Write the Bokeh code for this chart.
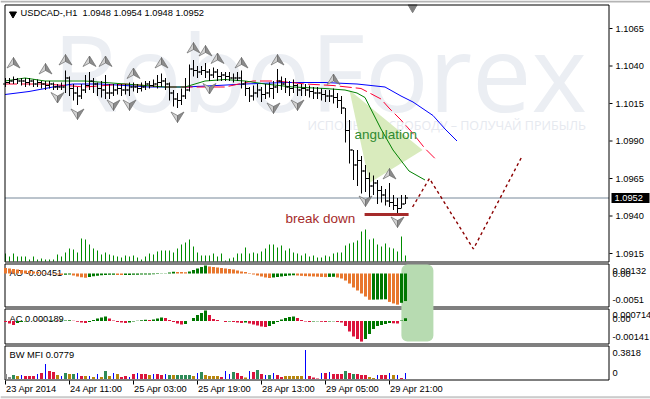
from bokeh.plotting import figure
from bokeh.models import Range1d
from bokeh.embed import file_html
from bokeh.resources import INLINE
from bokeh.core.properties import value

# ---------------- data ----------------
title_text = "USDCAD-,H1\u00a0\u00a01.0948 1.0954 1.0948 1.0952"
time_ticks = [0, 16, 32, 48, 64, 80, 96]
time_labels = ["23 Apr 2014", "24 Apr 11:00", "25 Apr 03:00", "25 Apr 19:00",
               "28 Apr 13:00", "29 Apr 05:00", "29 Apr 21:00"]
price_ticks = [1.0915, 1.0940, 1.0965, 1.0990, 1.1015, 1.1040, 1.1065]
price_labels = ["1.0915", "1.0940", "1.0965", "1.0990", "1.1015", "1.1040", "1.1065"]
last_price = 1.0952

opens = [1.1028,1.1029,1.1030,1.1031,1.1030,1.1030,1.1029,1.1030,1.1028,1.1029,
         1.1028,1.1027,1.1028,1.1026,1.1026,1.1026,1.1032,1.1025,1.1022,1.1020,
         1.1024,1.1027,1.1030,1.1028,1.1025,1.1024,1.1022,1.1022,1.1024,1.1025,
         1.1024,1.1024,1.1026,1.1026,1.1025,1.1026,1.1028,1.1027,1.1028,1.1029,
         1.1030,1.1028,1.1022,1.1018,1.1017,1.1020,1.1024,1.1038,1.1037,1.1036,
         1.1037,1.1036,1.1034,1.1036,1.1033,1.1034,1.1033,1.1032,1.1032,1.1032,
         1.1028,1.1025,1.1020,1.1022,1.1024,1.1021,1.1022,1.1025,1.1026,1.1030,
         1.1028,1.1026,1.1025,1.1027,1.1024,1.1025,1.1024,1.1023,1.1022,1.1022,
         1.1021,1.1020,1.1020,1.1019,1.1017,1.1012,1.0997,1.0984,1.0974,1.0977,
         1.0970,1.0965,1.0960,1.0962,1.0957,1.0954,1.0950,1.0949,1.0947,1.0945,
         1.0948]
highs = [1.1032,1.1032,1.1033,1.1032,1.1032,1.1032,1.1032,1.1031,1.1031,1.1030,
         1.1030,1.1030,1.1029,1.1028,1.1029,1.1037,1.1033,1.1028,1.1026,1.1028,
         1.1034,1.1036,1.1032,1.1029,1.1030,1.1034,1.1028,1.1028,1.1028,1.1028,
         1.1028,1.1029,1.1029,1.1028,1.1029,1.1030,1.1030,1.1031,1.1034,1.1035,
         1.1032,1.1029,1.1024,1.1022,1.1025,1.1032,1.1041,1.1044,1.1040,1.1040,
         1.1042,1.1038,1.1039,1.1038,1.1036,1.1036,1.1036,1.1035,1.1036,1.1037,
         1.1030,1.1026,1.1027,1.1028,1.1026,1.1028,1.1029,1.1030,1.1038,1.1033,
         1.1032,1.1030,1.1031,1.1028,1.1028,1.1028,1.1027,1.1026,1.1026,1.1025,
         1.1024,1.1024,1.1025,1.1022,1.1020,1.1012,1.1004,1.0984,1.0984,1.0980,
         1.0974,1.0969,1.0967,1.0964,1.0960,1.0958,1.0962,1.0954,1.0952,1.0954,
         1.0954]
lows = [1.1026,1.1028,1.1028,1.1028,1.1027,1.1026,1.1027,1.1026,1.1026,1.1025,
        1.1024,1.1025,1.1024,1.1024,1.1024,1.1022,1.1020,1.1017,1.1014,1.1018,
        1.1022,1.1024,1.1022,1.1020,1.1019,1.1018,1.1018,1.1020,1.1021,1.1020,
        1.1021,1.1020,1.1023,1.1022,1.1023,1.1024,1.1025,1.1026,1.1025,1.1026,
        1.1024,1.1017,1.1013,1.1012,1.1014,1.1018,1.1023,1.1033,1.1032,1.1034,
        1.1032,1.1030,1.1032,1.1030,1.1030,1.1030,1.1030,1.1029,1.1030,1.1025,
        1.1020,1.1016,1.1017,1.1019,1.1016,1.1018,1.1019,1.1018,1.1022,1.1024,
        1.1022,1.1020,1.1022,1.1020,1.1020,1.1020,1.1019,1.1018,1.1018,1.1017,
        1.1016,1.1016,1.1015,1.1012,1.1008,1.0989,1.0975,1.0964,1.0960,1.0955,
        1.0956,1.0952,1.0954,1.0948,1.0949,1.0947,1.0946,1.0944,1.0942,1.0945,
        1.0948]
closes = [1.1029,1.1030,1.1031,1.1030,1.1030,1.1029,1.1030,1.1028,1.1029,1.1028,
          1.1027,1.1028,1.1026,1.1026,1.1026,1.1032,1.1025,1.1022,1.1020,1.1024,
          1.1027,1.1030,1.1028,1.1025,1.1024,1.1022,1.1022,1.1024,1.1025,1.1024,
          1.1024,1.1026,1.1026,1.1025,1.1026,1.1028,1.1027,1.1028,1.1029,1.1030,
          1.1028,1.1022,1.1018,1.1017,1.1020,1.1024,1.1038,1.1037,1.1036,1.1037,
          1.1036,1.1034,1.1036,1.1033,1.1034,1.1033,1.1032,1.1032,1.1032,1.1028,
          1.1025,1.1020,1.1022,1.1024,1.1021,1.1022,1.1025,1.1026,1.1030,1.1028,
          1.1026,1.1025,1.1027,1.1024,1.1025,1.1024,1.1023,1.1022,1.1022,1.1021,
          1.1020,1.1020,1.1019,1.1017,1.1012,1.0997,1.0984,1.0974,1.0977,1.0970,
          1.0965,1.0960,1.0962,1.0957,1.0954,1.0950,1.0949,1.0947,1.0945,1.0948,
          1.0952]
volumes = [800,500,800,500,500,500,200,500,200,300,
           200,200,200,700,500,900,1300,1200,900,2300,
           2200,1700,1300,1100,700,900,700,600,500,400,
           600,500,600,400,200,500,800,700,1000,1100,
           1100,1100,900,1300,1700,1900,2200,1500,900,600,
           600,600,800,500,800,100,300,400,800,800,
           1400,800,900,800,1000,1300,1700,1700,1400,1600,
           1100,1300,900,800,600,800,500,600,400,400,
           600,500,800,900,900,1600,1800,1900,2100,3000,
           3200,2200,2300,1700,1500,1800,1400,1300,1000,2500,
           600]

# Alligator (shifted lines, beyond the last bar)
jaw_idx = [0, 6, 12, 17, 24, 36, 45, 53, 60, 70, 80, 88, 95, 99, 102, 107, 110, 113]
jaw = [1.1021, 1.1023, 1.1026, 1.1028, 1.1028, 1.1026, 1.1026, 1.1027, 1.1028, 1.1029,
       1.1029, 1.1028, 1.1026, 1.1020, 1.1016, 1.1007, 1.0998, 1.0990]
teeth_idx = [0, 10, 20, 30, 40, 50, 55, 62, 68, 75, 82, 89, 94, 96, 99, 102, 105, 108]
teeth = [1.1028, 1.1028, 1.1026, 1.1028, 1.1026, 1.1026, 1.1026, 1.1030, 1.1030, 1.1028,
         1.1027, 1.1025, 1.1018, 1.1012, 1.1004, 1.0995, 1.0985, 1.0977]
lips_idx = [0, 5, 10, 20, 30, 40, 45, 50, 55, 60, 65, 72, 80, 85, 88, 90, 94, 97, 101, 105]
lips = [1.1030, 1.1032, 1.1030, 1.1030, 1.1028, 1.1026, 1.1026, 1.1030, 1.1031, 1.1030,
        1.1028, 1.1026, 1.1025, 1.1024, 1.1022, 1.1019, 1.0998, 1.0984, 1.0970, 1.0964]

# Fractals
frac_up_idx = [2, 10, 15, 21, 25, 32, 39, 47, 50, 53, 59, 68, 82, 96]
frac_up = [1.1042, 1.1038, 1.1044, 1.1043, 1.1043, 1.1035, 1.1042, 1.1052, 1.1050,
           1.1045, 1.1042, 1.1044, 1.1031, 1.0968]
frac_dn_idx = [13, 18, 27, 31, 43, 51, 67, 73, 90, 98]
frac_dn = [1.1019, 1.1008, 1.1014, 1.1014, 1.1006, 1.1025, 1.1012, 1.1014, 1.0950, 1.0936]

# Annotations
angle_idx = [86.1, 104.4, 91.1]
angle_price = [1.1024, 1.0984, 1.0962]
angle_text_pos = (87.4, 1.09943)
break_idx = [89.9, 100.9]
break_price = 1.0941
break_text_pos = (70.1, 1.09383)
forecast_idx = [101.9, 106.1, 117.1, 129.1]
forecast_price = [1.0946, 1.0965, 1.0918, 1.0979]
highlight_idx = (99.1, 107.1)
shift_mark_idx = 101.9

# Awesome Oscillator
ao = [0.00090,0.00082,0.00074,0.00065,0.00057,0.00049,0.00041,0.00033,0.00025,0.00016,
      0.00008,0.00000,-0.00008,-0.00016,-0.00025,-0.00020,-0.00016,-0.00033,-0.00049,-0.00062,
      -0.00069,-0.00057,-0.00046,-0.00036,-0.00029,-0.00025,-0.00021,-0.00020,-0.00023,-0.00026,
      -0.00025,-0.00023,-0.00021,-0.00020,-0.00018,-0.00016,-0.00015,-0.00013,-0.00010,-0.00005,
      0.00005,0.00016,0.00029,0.00026,0.00023,0.00020,0.00033,0.00057,0.00082,0.00106,
      0.00132,0.00115,0.00106,0.00098,0.00090,0.00082,0.00074,0.00065,0.00049,0.00033,
      0.00025,0.00008,-0.00016,-0.00033,-0.00049,-0.00065,-0.00074,-0.00065,-0.00057,-0.00049,
      -0.00041,-0.00033,-0.00029,-0.00033,-0.00038,-0.00043,-0.00046,-0.00049,-0.00052,-0.00056,
      -0.00059,-0.00056,-0.00054,-0.00065,-0.00082,-0.00115,-0.00164,-0.00229,-0.00278,-0.00327,
      -0.00377,-0.00430,-0.00428,-0.00426,-0.00424,-0.00422,-0.00465,-0.00490,-0.00510,-0.00480,
      -0.00451]
ao_labels = ["0.00132", "0.00", "-0.0051"]

# Accelerator Oscillator
ac = [-0.000068,-0.000171,-0.000274,-0.000137,-0.000068,-0.000034,0.000000,0.000021,0.000014,0.000027,
      0.000021,0.000034,0.000041,0.000027,0.000034,0.000041,0.000048,0.000014,-0.000055,-0.000103,
      -0.000137,-0.000068,0.000068,0.000171,0.000240,0.000308,0.000171,0.000034,-0.000068,-0.000103,
      -0.000137,-0.000103,-0.000034,0.000021,0.000055,0.000082,0.000068,0.000103,0.000171,0.000240,
      0.000205,0.000068,-0.000068,-0.000171,-0.000240,-0.000205,0.000000,0.000205,0.000411,0.000548,
      0.000714,0.000411,0.000137,0.000068,0.000000,-0.000068,-0.000034,-0.000068,-0.000103,-0.000137,
      -0.000103,-0.000171,-0.000240,-0.000308,-0.000377,-0.000411,-0.000342,-0.000205,-0.000068,0.000103,
      0.000205,0.000274,0.000308,0.000205,0.000068,-0.000034,-0.000068,-0.000034,-0.000021,-0.000055,
      -0.000068,-0.000034,-0.000021,-0.000068,-0.000103,-0.000342,-0.000719,-0.001062,-0.001233,-0.001410,
      -0.001233,-0.000890,-0.000548,-0.000342,-0.000274,-0.000205,-0.000137,-0.000158,-0.000171,0.000034,
      0.000189]
ac_labels = ["0.000714", "0.00", "-0.00141"]

# Market Facilitation Index
mfi = [0.0659,0.0263,0.0527,0.0395,0.0527,0.0395,0.0395,0.0395,0.0659,0.0790,
       0.1976,0.1054,0.0922,0.0527,0.0395,0.0790,0.0659,0.0659,0.0790,0.0395,
       0.0395,0.0395,0.0263,0.0659,0.0263,0.1054,0.0395,0.0790,0.0659,0.0263,
       0.0395,0.0263,0.0659,0.0790,0.0659,0.0659,0.0527,0.0659,0.0659,0.0527,
       0.0659,0.0527,0.0527,0.0527,0.0527,0.0527,0.0527,0.0395,0.0790,0.0922,
       0.0527,0.0395,0.0395,0.0395,0.0263,0.1054,0.0659,0.0922,0.0790,0.0395,
       0.0198,0.1054,0.0922,0.1185,0.0659,0.0527,0.0527,0.0790,0.0527,0.0263,
       0.0395,0.0395,0.0395,0.0395,0.0395,0.3818,0.0395,0.0198,0.0066,0.0790,
       0.0790,0.0922,0.0659,0.0659,0.0659,0.1054,0.0790,0.0659,0.0659,0.0527,
       0.0527,0.0263,0.0132,0.0527,0.0527,0.0527,0.0790,0.0527,0.0527,0.0132,
       0.0779]
mfi_type = ["n","n","g","f","b","s","s","s","b","s",
            "b","s","s","f","b","g","f","g","b","s",
            "f","b","f","b","f","g","f","b","f","s",
            "s","b","s","b","s","s","f","b","s","s",
            "b","g","f","g","g","g","g","f","b","g",
            "f","f","f","f","s","b","b","g","s","s",
            "f","b","s","g","s","b","g","b","s","s",
            "f","f","f","f","f","b","s","s","s","b",
            "s","b","s","s","s","g","s","g","s","s",
            "s","f","f","b","s","s","b","f","b","s",
            "b"]
mfi_labels = ["0.3818", "0"]

# ---------------- layout / style ----------------
W, H = 650, 399
FONT = "Liberation Sans"
FS = "9.3px"
BAR0_PX, BAR_PX = 4.5, 4.0
LEFT, RIGHT = 4.5, 608.5
PANELS = [(4.5, 261.5), (263.5, 306.5), (308.5, 343.5), (345.5, 379.5)]
PRICE_PX_PER = 15000.0
PX = 1 / BAR_PX                  # one pixel in bar units
HIST_L, HIST_R = 1 * PX, 2 * PX  # 3-px histogram bars
THIN_L, THIN_R = 0.0, 1 * PX     # 1-px bars
HALF_PX_PRICE = 0.5 / PRICE_PX_PER

def yr(v_anchor, px_anchor, v_per_px):
    return Range1d(v_anchor - (H - px_anchor) * v_per_px, v_anchor + px_anchor * v_per_px)

p = figure(width=W, height=H, output_backend="svg", toolbar_location=None,
           x_range=Range1d(-BAR0_PX / BAR_PX, (W - BAR0_PX) / BAR_PX),
           y_range=Range1d(H, 0), x_axis_location=None, y_axis_location=None,
           min_border=0, outline_line_color=None,
           background_fill_color="white", border_fill_color="white")
p.grid.visible = False
p.extra_x_ranges = {"px": Range1d(0, W)}
p.extra_y_ranges = {
    "price": yr(1.1065, 28.0, 1 / PRICE_PX_PER),
    "vol": yr(0.0, 261.0, 100.0),
    "ao": yr(0.0, 273.0, 0.0001637),
    "ac": yr(0.0, 320.5, 0.0000685),
    "mfi": yr(0.0, 378.5, 0.01317),
}

def txt(x, y, t, color="black", size=FS, font=FONT, align="left", baseline="middle",
        xr="px", yrn="default", **kw):
    p.text(x=x, y=y, text=t, text_color=color, text_font=value(font),
           text_font_size=value(size), text_align=align, text_baseline=baseline,
           x_range_name=xr, y_range_name=yrn, **kw)

# window chrome
p.quad(left=[0], right=[W], top=[0], bottom=[2], fill_color="#b4b4b4", line_color=None, x_range_name="px")
p.quad(left=[0], right=[W], top=[396.5], bottom=[H], fill_color="#f0f0f0", line_color=None, x_range_name="px")
p.segment(x0=[0], x1=[W], y0=[396.5], y1=[396.5], line_color="#a8a8a8", x_range_name="px")

# watermark
txt([52], [70], ["RoboForex"], color="#ebeef3", size="106px", font="Open Sans", baseline="alphabetic")
txt([307], [125], ["ИСПОЛЬЗУЙ СВОБОДУ – ПОЛУЧАЙ ПРИБЫЛЬ"], color="#e6e9ef", size="12.5px",
    font="Open Sans")

# angulation triangle
p.patch(angle_idx, angle_price, fill_color="#d9ebbd", line_color=None, y_range_name="price")

# volumes (1-px columns)
idx = list(range(len(closes)))
p.quad(left=[i - THIN_L for i in idx], right=[i + THIN_R for i in idx], bottom=[0] * len(idx),
       top=volumes, fill_color="#008c00", line_color=None, y_range_name="vol")

# last price line
p.segment(x0=[LEFT], x1=[RIGHT], y0=[last_price], y1=[last_price], line_color="#778899",
          x_range_name="px", y_range_name="price")

# alligator
p.line(jaw_idx, jaw, line_color="#0000ff", line_width=1, y_range_name="price")
p.line(teeth_idx, teeth, line_color="#ff0033", line_width=1, line_dash="12 4", y_range_name="price")
p.line(lips_idx, lips, line_color="#008000", line_width=1, y_range_name="price")

# OHLC bars: 1-px high-low column, open tick left, close tick right
p.quad(left=[i - THIN_L for i in idx], right=[i + THIN_R for i in idx], bottom=lows, top=highs,
       fill_color="black", line_color=None, y_range_name="price")
p.quad(left=[i - 2 * PX for i in idx], right=idx, bottom=[o - HALF_PX_PRICE for o in opens],
       top=[o + HALF_PX_PRICE for o in opens], fill_color="black", line_color=None, y_range_name="price")
p.quad(left=[i + PX for i in idx], right=[i + 3 * PX for i in idx], bottom=[c - HALF_PX_PRICE for c in closes],
       top=[c + HALF_PX_PRICE for c in closes], fill_color="black", line_color=None, y_range_name="price")

# fractal arrows (shape in pixel offsets)
HALF_L = [(0, -5.5), (-6.5, 5), (0, 1.5)]
HALF_R = [(0, -5.5), (0, 1.5), (6.5, 5)]

def arrows(ix, pr, flip):
    for pts, col in ((HALF_L, "#d2d2d2"), (HALF_R, "#8c8c8c")):
        xs = [[i + (dx + 0.5) / BAR_PX for dx, dy in pts] for i in ix]
        ys = [[v - flip * dy / PRICE_PX_PER for dx, dy in pts] for v in pr]
        p.patches(xs, ys, fill_color=col, line_color="#6c6c6c", line_width=0.7,
                  y_range_name="price")

arrows(frac_up_idx, frac_up, 1)
arrows(frac_dn_idx, frac_dn, -1)

# annotations on the price chart
txt([angle_text_pos[0]], [angle_text_pos[1]], ["angulation"], color="#2f8a2f", size="13.5px",
    baseline="alphabetic", xr="default", yrn="price")
p.line(break_idx, [break_price, break_price], line_color="#a52a2a", line_width=3, y_range_name="price")
txt([break_text_pos[0]], [break_text_pos[1]], ["break down"], color="#a52a2a", size="13.5px",
    baseline="alphabetic", xr="default", yrn="price")
p.line(forecast_idx, forecast_price, line_color="#8b0000", line_width=1.4, line_dash="3 3",
       y_range_name="price")

# chart shift marker
p.scatter([shift_mark_idx], [7], marker="inverted_triangle", size=9, fill_color="#808080",
          line_color="#808080")

# panel borders
p.quad(left=[LEFT] * 4, right=[RIGHT] * 4, top=[a for a, b in PANELS], bottom=[b for a, b in PANELS],
       fill_color=None, line_color="black", line_width=1, x_range_name="px")

# highlight box over AO/AC
p.quad(left=[highlight_idx[0]], right=[highlight_idx[1]], top=[264], bottom=[341],
       fill_color="#b7dbb1", line_color=None, border_radius=6)

# sub-panel names
txt([9], [272], ["AO -0.00451"])
txt([9], [318], ["AC 0.000189"])
txt([9], [354], ["BW MFI 0.0779"])

# AO histogram
ao_col = ["#e8772e"] + ["#007700" if ao[i] > ao[i - 1] else "#e8772e" for i in range(1, len(ao))]
p.quad(left=[i - HIST_L for i in idx], right=[i + HIST_R for i in idx], bottom=[0] * len(idx), top=ao,
       fill_color=ao_col, line_color=None, y_range_name="ao")
# AC histogram
ac_col = ["#dc143c"] + ["#007700" if ac[i] > ac[i - 1] else "#dc143c" for i in range(1, len(ac))]
p.quad(left=[i - HIST_L for i in idx], right=[i + HIST_R for i in idx], bottom=[0] * len(idx), top=ac,
       fill_color=ac_col, line_color=None, y_range_name="ac")
# MFI histogram
mfi_colors = {"g": "#2e8b57", "f": "#b8860b", "b": "#0000ff", "s": "#dc143c", "n": "#8a8a8a"}
ml = [THIN_L if t == "b" else HIST_L for t in mfi_type]
mr = [THIN_R if t == "b" else HIST_R for t in mfi_type]
p.quad(left=[i - a for i, a in zip(idx, ml)], right=[i + b for i, b in zip(idx, mr)],
       bottom=[0] * len(idx), top=mfi, fill_color=[mfi_colors[t] for t in mfi_type],
       line_color=None, y_range_name="mfi")

# right price scale
p.segment(x0=[609] * len(price_ticks), x1=[612] * len(price_ticks), y0=price_ticks, y1=price_ticks,
          line_color="black", x_range_name="px", y_range_name="price")
txt([615] * len(price_ticks), price_ticks, price_labels, yrn="price")
p.quad(left=[611], right=[649], top=[last_price + 5 / PRICE_PX_PER], bottom=[last_price - 5 / PRICE_PX_PER],
       fill_color="black", line_color=None, x_range_name="px", y_range_name="price")
txt([614], [last_price], ["%.4f" % last_price], color="white", yrn="price")

# sub-panel scale labels
txt([612, 612, 612], [270.5, 273.5, 299], ao_labels)
txt([612, 612, 612], [314, 318, 336], ac_labels)
txt([612, 612], [352, 372], mfi_labels)

# time axis
p.quad(left=time_ticks, right=[t + PX for t in time_ticks], top=[380] * len(time_ticks),
       bottom=[384] * len(time_ticks), fill_color="black", line_color=None)
txt(time_ticks, [388] * len(time_ticks), time_labels, xr="default", x_offset=1)

# title
p.scatter([12.5], [13.5], marker="inverted_triangle", size=7, fill_color="black", line_color="black",
          x_range_name="px")
txt([20], [12.8], [title_text])

open("out.html", "w").write(file_html(p, INLINE))
